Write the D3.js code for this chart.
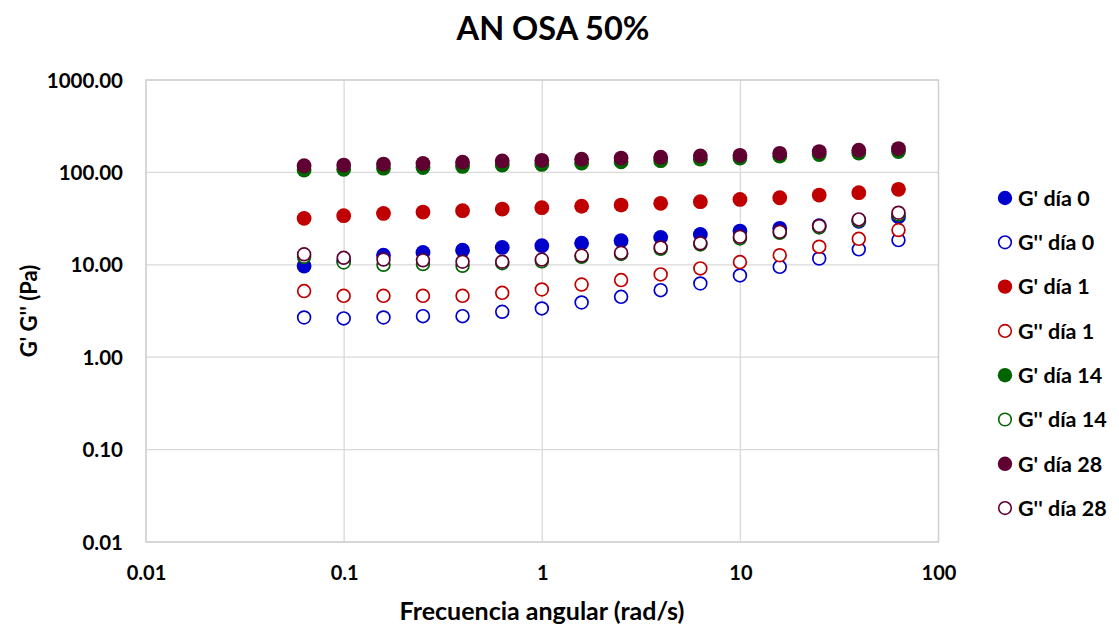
<!DOCTYPE html>
<html>
<head>
<meta charset="utf-8">
<script src="https://cdn.jsdelivr.net/npm/d3@7"></script>
<style>
  html, body { margin: 0; padding: 0; background: #fff; }
  svg text { font-family: Lato, "Open Sans", sans-serif; font-weight: bold; fill: #000; }
</style>
</head>
<body>
<svg id="chart" width="1119" height="630"></svg>
<script>
// Angular frequency sweep (rad/s)
const freq = [0.0628, 0.0995, 0.158, 0.25, 0.396, 0.628, 0.995, 1.58, 2.5, 3.96, 6.28, 9.95, 15.8, 25, 39.6, 62.8];

// Storage (G') and loss (G'') moduli, Pa
const gp0  = [9.7, 11.0, 12.7, 13.6, 14.4, 15.4, 16.1, 17.1, 18.2, 19.8, 21.3, 23.2, 24.8, 26.5, 29.5, 33.0];
const gpp0 = [2.69, 2.63, 2.69, 2.78, 2.78, 3.1, 3.37, 3.91, 4.5, 5.32, 6.28, 7.67, 9.5, 11.7, 14.7, 18.5];
const gp1  = [31.8, 34.0, 36.0, 37.2, 38.5, 40.1, 41.5, 43.0, 44.3, 46.3, 48.2, 51.0, 53.2, 56.9, 60.3, 65.6];
const gpp1 = [5.19, 4.61, 4.61, 4.61, 4.61, 4.97, 5.41, 6.12, 6.83, 7.87, 9.14, 10.7, 12.7, 15.7, 19.1, 23.8];
const gp14  = [106, 108, 111, 113, 116, 120, 122, 126, 130, 134, 139, 143, 150, 156, 162, 168];
const gpp14 = [12.2, 10.6, 10.0, 10.2, 9.75, 10.4, 10.9, 12.2, 13.1, 14.9, 16.6, 19.3, 22.2, 25.4, 30.0, 35.0];
const gp28  = [118, 120, 123, 125, 129, 133, 135, 139, 143, 146, 151, 153, 161, 168, 174, 181];
const gpp28 = [13.0, 11.9, 11.4, 11.2, 10.8, 10.8, 11.4, 12.6, 13.5, 15.4, 17.1, 20.1, 22.8, 26.3, 31.0, 36.6];

const seriesNames = ["G' día 0", "G'' día 0", "G' día 1", "G'' día 1", "G' día 14", "G'' día 14", "G' día 28", "G'' día 28"];
const seriesValues = [gp0, gpp0, gp1, gpp1, gp14, gpp14, gp28, gpp28];
const seriesColors = ["#0000CC", "#0000CC", "#C00000", "#C00000", "#006400", "#006400", "#600032", "#600032"];
const seriesFilled = [true, false, true, false, true, false, true, false];

const xTicks = [0.01, 0.1, 1, 10, 100];
const xTickLabels = ["0.01", "0.1", "1", "10", "100"];
const yTicks = [0.01, 0.1, 1, 10, 100, 1000];
const yTickLabels = ["0.01", "0.10", "1.00", "10.00", "100.00", "1000.00"];

const titleText = "AN OSA 50%";
const xTitle = "Frecuencia angular (rad/s)";
const yTitle = "G' G'' (Pa)";

const svg = d3.select("#chart");
const plot = { left: 146, right: 938.5, top: 80, bottom: 542 };

const x = d3.scaleLog().domain([0.01, 100]).range([plot.left, plot.right]);
const y = d3.scaleLog().domain([0.01, 1000]).range([plot.bottom, plot.top]);

// Gridlines
const grid = svg.append("g");
grid.selectAll("line.gx").data(xTicks).join("line")
  .attr("x1", d => x(d)).attr("x2", d => x(d))
  .attr("y1", plot.top).attr("y2", plot.bottom)
  .attr("stroke", "#d9d9d9").attr("stroke-width", 1.3);
grid.selectAll("line.gy").data(yTicks).join("line")
  .attr("x1", plot.left).attr("x2", plot.right)
  .attr("y1", d => y(d)).attr("y2", d => y(d))
  .attr("stroke", "#d9d9d9").attr("stroke-width", 1.3);
svg.append("rect")
  .attr("x", plot.left).attr("y", plot.top)
  .attr("width", plot.right - plot.left).attr("height", plot.bottom - plot.top)
  .attr("fill", "none").attr("stroke", "#d0d0d0").attr("stroke-width", 1.3);

// Axes (labels only; no tick marks or domain line)
const xAxis = svg.append("g")
  .attr("transform", `translate(0,${plot.bottom + 24})`)
  .call(d3.axisBottom(x).tickValues(xTicks).tickFormat((d, i) => xTickLabels[i]).tickSize(0).tickPadding(0));
xAxis.select(".domain").remove();
xAxis.selectAll("text").attr("font-size", 20).attr("dy", "0.71em")
  .style("font-family", "Lato, sans-serif").style("font-weight", "bold").attr("fill", "#000");

const yAxis = svg.append("g")
  .attr("transform", `translate(${plot.left - 23},0)`)
  .call(d3.axisLeft(y).tickValues(yTicks).tickFormat((d, i) => yTickLabels[i]).tickSize(0).tickPadding(0));
yAxis.select(".domain").remove();
yAxis.selectAll("text").attr("font-size", 20.5).attr("dy", "0.35em")
  .style("font-family", "Lato, sans-serif").style("font-weight", "bold").attr("fill", "#000");

// Titles
svg.append("text").attr("x", 553).attr("y", 40).attr("text-anchor", "middle")
  .attr("font-size", 32.5).text(titleText);
svg.append("text").attr("x", 542).attr("y", 620).attr("text-anchor", "middle")
  .attr("font-size", 25).text(xTitle);
svg.append("text").attr("transform", "translate(37,311) rotate(-90)").attr("text-anchor", "middle")
  .attr("font-size", 22).text(yTitle);

// Data markers, drawn series by series
const marks = svg.append("g");
seriesValues.forEach((vals, s) => {
  const g = marks.append("g");
  g.selectAll("circle").data(vals.map((v, i) => [freq[i], v])).join("circle")
    .attr("cx", d => x(d[0])).attr("cy", d => y(d[1]))
    .attr("r", seriesFilled[s] ? 7.4 : 6.4)
    .attr("fill", seriesFilled[s] ? seriesColors[s] : "#fff")
    .attr("stroke", seriesFilled[s] ? "none" : seriesColors[s])
    .attr("stroke-width", seriesFilled[s] ? 0 : 1.7);
});

// Legend
const legend = svg.append("g");
seriesNames.forEach((name, s) => {
  const ly = 198 + s * 44.3;
  legend.append("circle").attr("cx", 1005).attr("cy", ly)
    .attr("r", seriesFilled[s] ? 7.2 : 6.3)
    .attr("fill", seriesFilled[s] ? seriesColors[s] : "#fff")
    .attr("stroke", seriesFilled[s] ? "none" : seriesColors[s])
    .attr("stroke-width", seriesFilled[s] ? 0 : 1.6);
  legend.append("text").attr("x", 1018).attr("y", ly).attr("dy", "0.36em")
    .attr("font-size", 21.5).text(name);
});
</script>
</body>
</html>
